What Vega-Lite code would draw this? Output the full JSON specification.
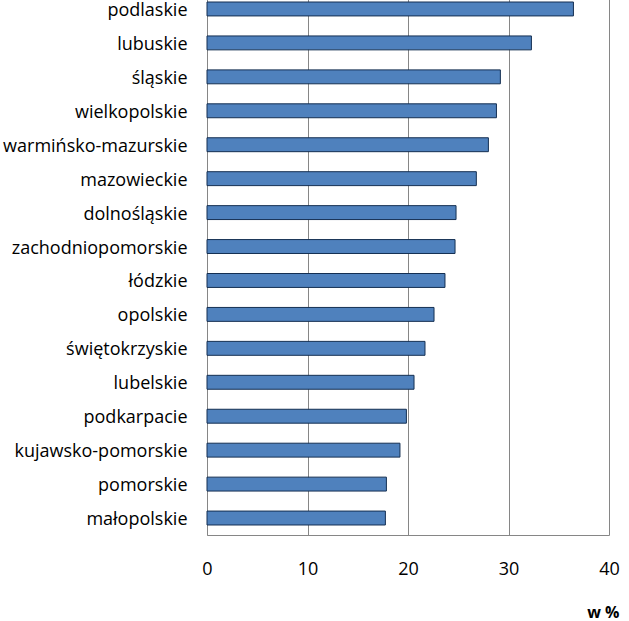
{
  "$schema": "https://vega.github.io/schema/vega-lite/v6.json",
  "autosize": {"type": "none"},
  "width": 402,
  "height": 543,
  "padding": {"left": 207, "top": -8, "right": 20, "bottom": 86},
  "background": "white",
  "config": {
    "view": {"stroke": null},
    "font": "Open Sans"
  },
  "data": {
    "values": [
      {"region": "podlaskie", "value": 36.46},
      {"region": "lubuskie", "value": 32.28},
      {"region": "śląskie", "value": 29.19},
      {"region": "wielkopolskie", "value": 28.8},
      {"region": "warmińsko-mazurskie", "value": 28.0},
      {"region": "mazowieckie", "value": 26.8},
      {"region": "dolnośląskie", "value": 24.78},
      {"region": "zachodniopomorskie", "value": 24.68},
      {"region": "łódzkie", "value": 23.68},
      {"region": "opolskie", "value": 22.59},
      {"region": "świętokrzyskie", "value": 21.69},
      {"region": "lubelskie", "value": 20.6},
      {"region": "podkarpacie", "value": 19.84},
      {"region": "kujawsko-pomorskie", "value": 19.2},
      {"region": "pomorskie", "value": 17.85},
      {"region": "małopolskie", "value": 17.75}
    ]
  },
  "mark": {"type": "bar", "fill": "#4F81BD", "stroke": "#142F52", "strokeWidth": 1},
  "encoding": {
    "y": {
      "field": "region",
      "type": "nominal",
      "sort": null,
      "scale": {"paddingInner": 0.59, "paddingOuter": 0.295},
      "axis": {
        "title": null,
        "ticks": false,
        "labelPadding": 20,
        "labelOffset": 2,
        "labelFontSize": 18,
        "labelColor": "#000000",
        "labelFont": "Open Sans",
        "domainColor": "#868686",
        "domainWidth": 1,
        "labelLimit": 300
      }
    },
    "x": {
      "field": "value",
      "type": "quantitative",
      "scale": {"domain": [0, 40], "nice": false},
      "axis": {
        "values": [0, 10, 20, 30, 40],
        "ticks": false,
        "grid": true,
        "gridColor": "#868686",
        "gridWidth": 1,
        "domainColor": "#868686",
        "labelFlush": false,
        "labelPadding": 25,
        "labelFontSize": 18,
        "labelColor": "#000000",
        "labelFont": "Open Sans",
        "title": "w %",
        "titleFont": "Open Sans",
        "titleFontSize": 16,
        "titleFontWeight": "bold",
        "titleColor": "#000000",
        "titleAlign": "right",
        "titleAnchor": null,
        "titleX": 412,
        "titleY": 82,
        "titleBaseline": "alphabetic"
      }
    }
  }
}
